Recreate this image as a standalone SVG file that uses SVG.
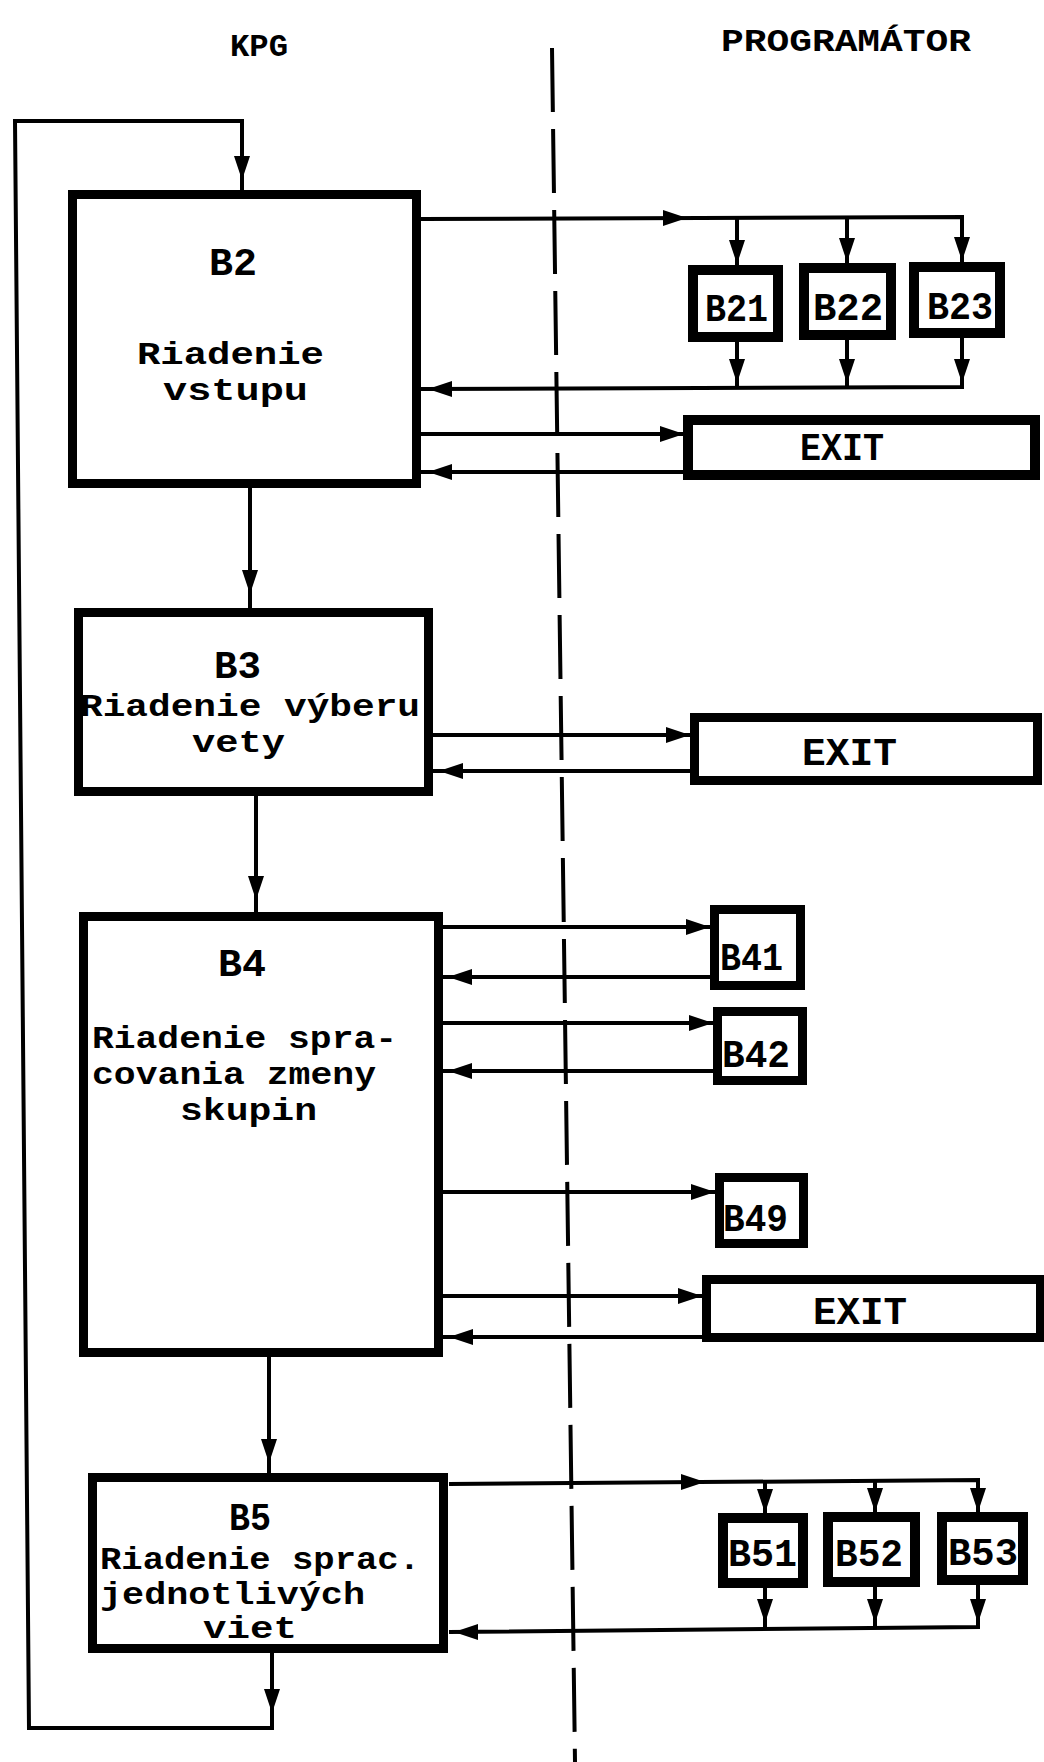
<svg xmlns="http://www.w3.org/2000/svg" width="1044" height="1762" viewBox="0 0 1044 1762">
<style>
.bg{fill:#fff}
.box{fill:none;stroke:#000;stroke-width:9}
.sbox{fill:none;stroke:#000;stroke-width:10}
.ln{fill:none;stroke:#000;stroke-width:4;stroke-linejoin:miter}
.dash{fill:none;stroke:#000;stroke-width:4;stroke-dasharray:64 17}
.t{font-family:"Liberation Mono","Courier New",monospace;font-weight:bold;font-size:31px;fill:#000}
.tb{font-family:"Liberation Mono","Courier New",monospace;font-weight:bold;font-size:38px;fill:#000}
.ts{font-family:"Liberation Mono","Courier New",monospace;font-weight:bold;font-size:38px;fill:#000}
.h{font-family:"Liberation Mono","Courier New",monospace;font-weight:bold;font-size:32px;fill:#000}
.ah{fill:#000}
</style>
<defs>
<path id="ah" d="M0,0 L-24,-8 L-24,8 Z"/>
</defs>
<rect class="bg" x="0" y="0" width="1044" height="1762"/>

<g id="headers">
<text class="h" x="230" y="56" textLength="58" lengthAdjust="spacingAndGlyphs">KPG</text>
<text class="h" x="721" y="51" textLength="250" lengthAdjust="spacingAndGlyphs">PROGRAMÁTOR</text>
</g>

<g id="divider">
<path class="dash" d="M552,48 L575,1762"/>
</g>

<g id="connectors">
<path class="ln" d="M272,1653 L272,1728 L29,1728 L15,121 L242,121 L242,190"/>
<use href="#ah" class="ah" transform="translate(242,180) rotate(90)"/>
<use href="#ah" class="ah" transform="translate(272,1713) rotate(90)"/>
<path class="ln" d="M250,488 L250,608"/>
<use href="#ah" class="ah" transform="translate(250,594) rotate(90)"/>
<path class="ln" d="M256,796 L256,913"/>
<use href="#ah" class="ah" transform="translate(256,900) rotate(90)"/>
<path class="ln" d="M269,1357 L269,1473"/>
<use href="#ah" class="ah" transform="translate(269,1463) rotate(90)"/>

<path class="ln" d="M421,219 L962,217 L962,262"/>
<path class="ln" d="M737,218 L737,265"/>
<path class="ln" d="M847,218 L847,263"/>
<use href="#ah" class="ah" transform="translate(687,218)"/>
<use href="#ah" class="ah" transform="translate(737,264) rotate(90)"/>
<use href="#ah" class="ah" transform="translate(847,262) rotate(90)"/>
<use href="#ah" class="ah" transform="translate(962,261) rotate(90)"/>
<path class="ln" d="M737,342 L737,387"/>
<path class="ln" d="M847,340 L847,387"/>
<path class="ln" d="M962,338 L962,387 L421,389"/>
<use href="#ah" class="ah" transform="translate(737,383) rotate(90)"/>
<use href="#ah" class="ah" transform="translate(847,383) rotate(90)"/>
<use href="#ah" class="ah" transform="translate(962,383) rotate(90)"/>
<use href="#ah" class="ah" transform="translate(428,389) rotate(180)"/>
<path class="ln" d="M421,434 L686,434"/>
<use href="#ah" class="ah" transform="translate(684,434)"/>
<path class="ln" d="M686,472 L421,472"/>
<use href="#ah" class="ah" transform="translate(428,472) rotate(180)"/>

<path class="ln" d="M433,735 L692,735"/>
<use href="#ah" class="ah" transform="translate(690,735)"/>
<path class="ln" d="M692,771 L433,771"/>
<use href="#ah" class="ah" transform="translate(439,771) rotate(180)"/>

<path class="ln" d="M442,927 L712,927"/>
<use href="#ah" class="ah" transform="translate(710,927)"/>
<path class="ln" d="M712,977 L442,977"/>
<use href="#ah" class="ah" transform="translate(448,977) rotate(180)"/>
<path class="ln" d="M442,1023 L715,1023"/>
<use href="#ah" class="ah" transform="translate(713,1023)"/>
<path class="ln" d="M715,1071 L442,1071"/>
<use href="#ah" class="ah" transform="translate(448,1071) rotate(180)"/>
<path class="ln" d="M442,1192 L717,1192"/>
<use href="#ah" class="ah" transform="translate(715,1192)"/>
<path class="ln" d="M442,1296 L704,1296"/>
<use href="#ah" class="ah" transform="translate(702,1296)"/>
<path class="ln" d="M704,1337 L442,1337"/>
<use href="#ah" class="ah" transform="translate(449,1337) rotate(180)"/>

<path class="ln" d="M449,1484 L978,1480 L978,1512"/>
<path class="ln" d="M765,1481 L765,1513"/>
<path class="ln" d="M875,1481 L875,1512"/>
<use href="#ah" class="ah" transform="translate(705,1482)"/>
<use href="#ah" class="ah" transform="translate(765,1513) rotate(90)"/>
<use href="#ah" class="ah" transform="translate(875,1512) rotate(90)"/>
<use href="#ah" class="ah" transform="translate(978,1512) rotate(90)"/>
<path class="ln" d="M765,1588 L765,1627"/>
<path class="ln" d="M875,1587 L875,1627"/>
<path class="ln" d="M978,1585 L978,1627 L449,1632"/>
<use href="#ah" class="ah" transform="translate(765,1623) rotate(90)"/>
<use href="#ah" class="ah" transform="translate(875,1623) rotate(90)"/>
<use href="#ah" class="ah" transform="translate(978,1623) rotate(90)"/>
<use href="#ah" class="ah" transform="translate(454,1632) rotate(180)"/>
</g>

<g id="node-b2">
<rect class="box" x="72.5" y="194.5" width="344" height="289"/>
<text class="tb" x="209" y="275" textLength="48" lengthAdjust="spacingAndGlyphs">B2</text>
<text class="t" x="137" y="364" textLength="187" lengthAdjust="spacingAndGlyphs">Riadenie</text>
<text class="t" x="163" y="400" textLength="145" lengthAdjust="spacingAndGlyphs">vstupu</text>
</g>

<g id="node-b21">
<rect class="sbox" x="693" y="270" width="85" height="67"/>
<text class="ts" x="705" y="321" textLength="63" lengthAdjust="spacingAndGlyphs">B21</text>
</g>
<g id="node-b22">
<rect class="sbox" x="804" y="268" width="87" height="67"/>
<text class="ts" x="813" y="320" textLength="70" lengthAdjust="spacingAndGlyphs">B22</text>
</g>
<g id="node-b23">
<rect class="sbox" x="914" y="267" width="86" height="66"/>
<text class="ts" x="927" y="319" textLength="66" lengthAdjust="spacingAndGlyphs">B23</text>
</g>
<g id="node-exit1">
<rect class="sbox" x="688" y="420" width="347" height="55"/>
<text class="ts" x="800" y="460" textLength="84" lengthAdjust="spacingAndGlyphs">EXIT</text>
</g>

<g id="node-b3">
<rect class="box" x="78.5" y="612.5" width="350" height="179"/>
<text class="tb" x="214" y="678" textLength="47" lengthAdjust="spacingAndGlyphs">B3</text>
<text class="t" x="80" y="716" textLength="340" lengthAdjust="spacingAndGlyphs">Riadenie výberu</text>
<text class="t" x="192" y="752" textLength="93" lengthAdjust="spacingAndGlyphs">vety</text>
</g>
<g id="node-exit2">
<rect class="box" x="694.5" y="717.5" width="343" height="63"/>
<text class="ts" x="802" y="765" textLength="95" lengthAdjust="spacingAndGlyphs">EXIT</text>
</g>

<g id="node-b4">
<rect class="box" x="83.5" y="916.5" width="355" height="436"/>
<text class="tb" x="218" y="976" textLength="48" lengthAdjust="spacingAndGlyphs">B4</text>
<text class="t" x="92" y="1048" textLength="305" lengthAdjust="spacingAndGlyphs">Riadenie spra-</text>
<text class="t" x="92" y="1084" textLength="284" lengthAdjust="spacingAndGlyphs">covania zmeny</text>
<text class="t" x="180" y="1120" textLength="137" lengthAdjust="spacingAndGlyphs">skupin</text>
</g>
<g id="node-b41">
<rect class="box" x="714.5" y="909.5" width="86" height="76"/>
<text class="ts" x="720" y="970" textLength="63" lengthAdjust="spacingAndGlyphs">B41</text>
</g>
<g id="node-b42">
<rect class="box" x="717.5" y="1011.5" width="85" height="69"/>
<text class="ts" x="722" y="1067" textLength="68" lengthAdjust="spacingAndGlyphs">B42</text>
</g>
<g id="node-b49">
<rect class="box" x="719.5" y="1177.5" width="84" height="66"/>
<text class="ts" x="723" y="1231" textLength="65" lengthAdjust="spacingAndGlyphs">B49</text>
</g>
<g id="node-exit3">
<rect class="box" x="706.5" y="1279.5" width="334" height="58"/>
<text class="ts" x="813" y="1324" textLength="94" lengthAdjust="spacingAndGlyphs">EXIT</text>
</g>

<g id="node-b5">
<rect class="box" x="92.5" y="1477.5" width="351" height="171"/>
<text class="tb" x="229" y="1530" textLength="42" lengthAdjust="spacingAndGlyphs">B5</text>
<text class="t" x="100" y="1569" textLength="320" lengthAdjust="spacingAndGlyphs">Riadenie sprac.</text>
<text class="t" x="100" y="1604" textLength="265" lengthAdjust="spacingAndGlyphs">jednotlivých</text>
<text class="t" x="203" y="1638" textLength="94" lengthAdjust="spacingAndGlyphs">viet</text>
</g>
<g id="node-b51">
<rect class="sbox" x="723" y="1518" width="80" height="65"/>
<text class="ts" x="728" y="1566" textLength="69" lengthAdjust="spacingAndGlyphs">B51</text>
</g>
<g id="node-b52">
<rect class="sbox" x="828" y="1517" width="87" height="65"/>
<text class="ts" x="835" y="1566" textLength="68" lengthAdjust="spacingAndGlyphs">B52</text>
</g>
<g id="node-b53">
<rect class="sbox" x="942" y="1517" width="81" height="63"/>
<text class="ts" x="948" y="1565" textLength="70" lengthAdjust="spacingAndGlyphs">B53</text>
</g>
</svg>
